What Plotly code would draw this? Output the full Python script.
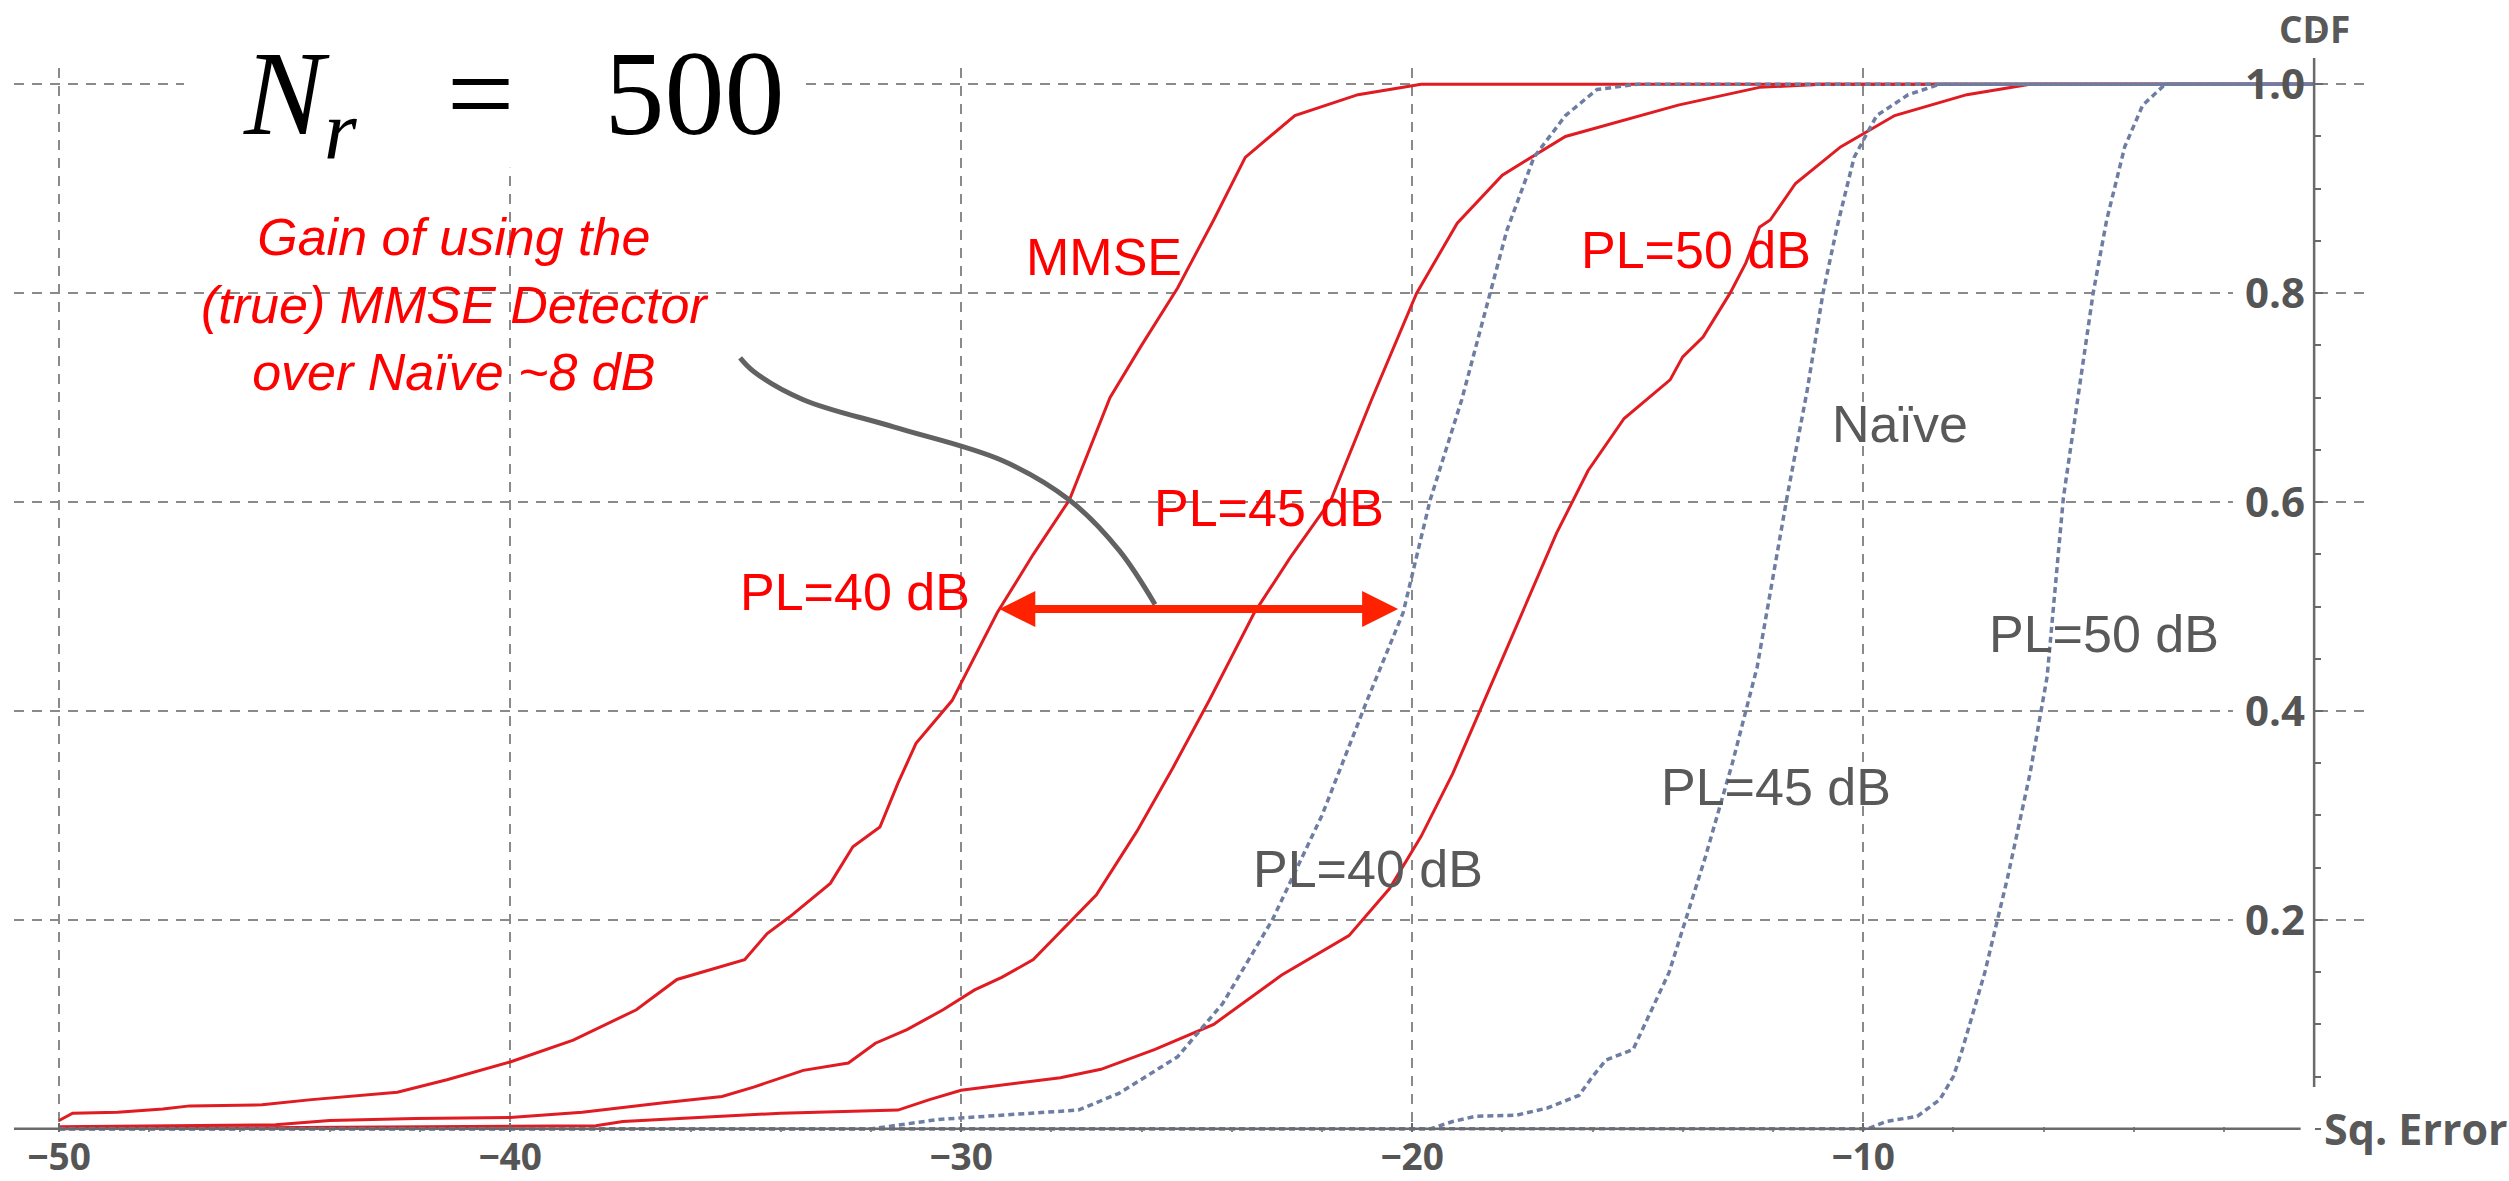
import plotly.graph_objects as go

# ---------------- data ----------------
mmse_40_x = [-50, -49.7, -48.7, -47.7, -47.1, -45.5, -44.4, -42.5, -41.4, -40.0, -38.6, -37.2, -36.3,
             -34.8, -34.3, -33.8, -32.9, -32.4, -31.8, -31.4, -31.0, -30.2, -29.2, -28.4, -27.6,
             -26.7, -26.0, -25.2, -24.4, -23.7, -22.6, -21.2, -19.8, 0]
mmse_40_y = [0.008, 0.015, 0.016, 0.019, 0.022, 0.023, 0.028, 0.035, 0.047, 0.064, 0.085, 0.114, 0.143,
             0.162, 0.187, 0.203, 0.235, 0.27, 0.289, 0.331, 0.369, 0.41, 0.494, 0.55, 0.602,
             0.70, 0.75, 0.805, 0.87, 0.93, 0.97, 0.99, 1.0, 1.0]

mmse_45_x = [-50, -45.2, -44.0, -42.1, -40.0, -38.4, -36.6, -35.3, -34.6, -33.5, -32.5, -31.9, -31.2,
             -30.4, -29.7, -29.1, -28.4, -27.0, -26.1, -25.3, -24.5, -23.5, -22.7, -21.8, -20.9,
             -19.9, -19.0, -18.0, -16.6, -14.1, -12.3, -10.9, 0]
mmse_45_y = [0.002, 0.004, 0.008, 0.010, 0.011, 0.016, 0.025, 0.031, 0.040, 0.056, 0.063, 0.082, 0.095,
             0.114, 0.133, 0.145, 0.162, 0.224, 0.285, 0.346, 0.41, 0.494, 0.547, 0.602, 0.698,
             0.80, 0.867, 0.913, 0.95, 0.98, 0.997, 1.0, 1.0]

mmse_50_x = [-50, -38.1, -37.5, -34.0, -31.4, -30.7, -30.0, -27.8, -26.9, -25.7, -24.4, -22.9, -21.4,
             -20.5, -19.8, -19.1, -18.4, -17.6, -16.8, -16.1, -15.3, -14.28, -14.0, -13.55, -12.95,
             -12.6, -12.3, -12.06, -11.5, -10.5, -9.3, -7.7, -6.3, 0]
mmse_50_y = [0.0, 0.003, 0.007, 0.015, 0.018, 0.028, 0.037, 0.049, 0.057, 0.076, 0.10, 0.147, 0.185,
             0.23, 0.28, 0.34, 0.41, 0.49, 0.57, 0.63, 0.68, 0.717, 0.739, 0.758, 0.80,
             0.829, 0.863, 0.87, 0.905, 0.94, 0.97, 0.99, 1.0, 1.0]

naive_40_x = [-50, -32.0, -30.5, -27.4, -26.5, -25.2, -24.2, -23.1, -22.0, -21.0, -20.2, -19.6, -18.9,
              -17.9, -17.3, -16.6, -15.9, -15.0, 0]
naive_40_y = [0.0, 0.0, 0.009, 0.018, 0.034, 0.069, 0.12, 0.20, 0.30, 0.41, 0.494, 0.602, 0.698,
              0.86, 0.93, 0.97, 0.995, 1.0, 1.0]

naive_45_x = [-50, -19.6, -19.1, -18.6, -17.7, -17.0, -16.3, -16.0, -15.7, -15.1, -14.3, -13.5, -12.9,
              -12.35, -11.69, -11.24, -10.89, -10.58, -10.2, -9.7, -9.0, -8.3, 0]
naive_45_y = [0.0, 0.0, 0.007, 0.012, 0.013, 0.020, 0.032, 0.050, 0.066, 0.076, 0.15, 0.26, 0.35,
              0.442, 0.604, 0.707, 0.80, 0.863, 0.93, 0.97, 0.99, 1.0, 1.0]

naive_50_x = [-50, -9.9, -9.5, -8.8, -8.3, -8.0, -7.8, -7.3, -6.8, -6.3, -5.92, -5.56, -5.19,
              -4.9, -4.6, -4.2, -3.8, -3.3, 0]
naive_50_y = [0.0, 0.0, 0.007, 0.012, 0.028, 0.05, 0.076, 0.15, 0.24, 0.34, 0.433, 0.604, 0.714,
              0.80, 0.87, 0.94, 0.98, 1.0, 1.0]

x_tick_vals = [-50, -40, -30, -20, -10]
x_tick_text = ["\u221250", "\u221240", "\u221230", "\u221220", "\u221210"]
y_tick_vals = [0.2, 0.4, 0.6, 0.8, 1.0]
y_tick_text = ["0.2", "0.4", "0.6", "0.8", "1.0"]

# leader line of the "gain" note and the gain arrow
leader_x = [-34.9, -34.6, -33.5, -31.5, -29.1, -27.6, -26.5, -25.7]
leader_y = [0.738, 0.725, 0.698, 0.672, 0.640, 0.602, 0.554, 0.502]
arrow_from_x, arrow_to_x, arrow_y = -29.22, -20.31, 0.4976

RED = "#E01B22"
BLUE = "#6E7DA2"
GRAY_TXT = "#595959"
AX = "#6a6a6a"
GRID = "#8a8a8a"

fig = go.Figure()

for xs, ys in [(mmse_40_x, mmse_40_y), (mmse_45_x, mmse_45_y), (mmse_50_x, mmse_50_y)]:
    fig.add_trace(go.Scatter(x=xs, y=ys, mode="lines", line=dict(color=RED, width=3),
                             showlegend=False, hoverinfo="skip"))
for xs, ys in [(naive_40_x, naive_40_y), (naive_45_x, naive_45_y), (naive_50_x, naive_50_y)]:
    fig.add_trace(go.Scatter(x=xs, y=ys, mode="lines",
                             line=dict(color=BLUE, width=3.5, dash="6px,4px"),
                             showlegend=False, hoverinfo="skip"))

fig.add_trace(go.Scatter(x=leader_x, y=leader_y, mode="lines",
                         line=dict(color="#626262", width=5, shape="spline"),
                         showlegend=False, hoverinfo="skip"))

X0, X1 = -51.0, 1.15
Y0, Y1 = -0.003, 1.05
ypos = (0 - X0) / (X1 - X0)

xtickfont = dict(family="Open Sans", size=37, color="#555555", weight="bold")
ytickfont = dict(family="Open Sans", size=42, color="#555555", weight="bold")

fig.update_layout(
    width=2509, height=1181,
    margin=dict(l=14, r=143, t=32, b=49),
    paper_bgcolor="white", plot_bgcolor="white",
    xaxis=dict(range=[X0, X1], tickmode="array", tickvals=x_tick_vals, ticktext=x_tick_text,
               showgrid=True, gridcolor=GRID, gridwidth=2, griddash="10px,8px",
               zeroline=False, showline=False, ticks="inside", ticklen=9, tickwidth=2,
               tickcolor=AX, tickfont=xtickfont, ticklabelstandoff=0,
               minor=dict(tickmode="linear", tick0=0, dtick=2, ticks="inside", ticklen=5,
                          tickcolor="#888888", showgrid=False),
               automargin=False, fixedrange=True),
    yaxis=dict(range=[Y0, Y1], anchor="free", position=ypos, side="right",
               ticklabelposition="inside", tickmode="array", tickvals=y_tick_vals,
               ticktext=y_tick_text, showgrid=True, gridcolor=GRID, gridwidth=2,
               griddash="10px,8px", zeroline=False, showline=False, ticks="outside",
               ticklen=8, tickwidth=2, tickcolor=AX, tickfont=ytickfont,
               ticklabelstandoff=6,
               minor=dict(tickmode="linear", tick0=0, dtick=0.05, ticks="outside", ticklen=6,
                          tickcolor=AX, showgrid=False),
               automargin=False, fixedrange=True),
)

# axis lines
fig.add_shape(type="line", xref="x", yref="y", x0=X0, x1=-0.3, y0=0, y1=0,
              line=dict(color=AX, width=2.5), layer="above")
fig.add_shape(type="line", xref="x", yref="y", x0=0, x1=0, y0=0.04, y1=1.025,
              line=dict(color=AX, width=2.5), layer="above")
# white boxes hiding the grid behind the title, above the top and behind y tick labels
fig.add_shape(type="rect", xref="x", yref="y", x0=-47.23, x1=-33.57, y0=0.92, y1=1.1,
              fillcolor="white", line=dict(width=0), layer="between")
fig.add_shape(type="rect", xref="x", yref="y", x0=X0, x1=X1, y0=1.023, y1=1.1,
              fillcolor="white", line=dict(width=0), layer="between")
fig.add_shape(type="rect", xref="x", yref="y", x0=-1.8, x1=-0.05, y0=0.15, y1=1.05,
              fillcolor="white", line=dict(width=0), layer="between")

def note(x, y, text, color, size=52, italic=False, family="Liberation Sans", **kw):
    fig.add_annotation(x=x, y=y, xref="x", yref="y", text=text, showarrow=False,
                       font=dict(family=family, size=size, color=color,
                                 style="italic" if italic else "normal"), **kw)

sp = "&nbsp;&nbsp;&nbsp;"
note(-39.93, 0.983, "<i>N</i><sub><i>r</i></sub>" + sp + "=" + sp + "500", "black",
     size=120, family="Liberation Serif")
note(-41.22, 0.789, "Gain of using the<br>(true) MMSE Detector<br>over Naïve ~8 dB", "#FF0000",
     italic=True)
note(-26.83, 0.835, "MMSE", "#FF0000")
note(-13.70, 0.841, "PL=50 dB", "#FF0000")
note(-23.17, 0.594, "PL=45 dB", "#FF0000")
note(-32.35, 0.514, "PL=40 dB", "#FF0000")
note(-9.18, 0.675, "Naïve", GRAY_TXT)
note(-4.66, 0.474, "PL=50 dB", GRAY_TXT)
note(-11.93, 0.327, "PL=45 dB", GRAY_TXT)
note(-20.98, 0.249, "PL=40 dB", GRAY_TXT)

fig.add_annotation(x=0, xref="x", y=1.003, yref="paper", yanchor="middle", xanchor="center",
                   text="CDF", showarrow=False,
                   font=dict(family="Open Sans", size=37, color=GRAY_TXT, weight="bold"))
fig.add_annotation(x=0.18, xref="x", y=0, yref="y", text="Sq. Error", showarrow=False,
                   xanchor="left", yanchor="middle",
                   font=dict(family="Open Sans", size=43, color=GRAY_TXT, weight="bold"))

fig.add_annotation(x=arrow_to_x, y=arrow_y, ax=arrow_from_x, ay=arrow_y, xref="x", yref="y",
                   axref="x", ayref="y", text=" ", showarrow=True, arrowhead=2,
                   arrowside="end+start", arrowwidth=8, arrowsize=0.9, arrowcolor="#FF2200")

fig.write_html("out.html")
